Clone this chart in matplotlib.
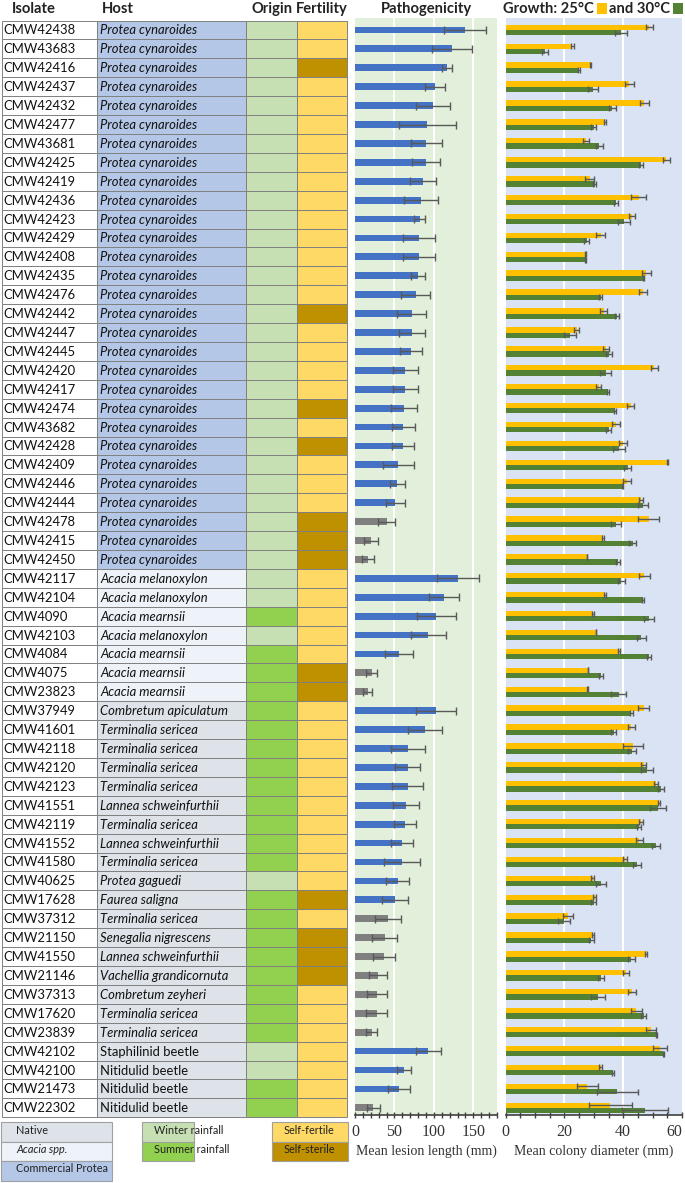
import matplotlib.pyplot as plt
from matplotlib.patches import Rectangle
import numpy as np

# ---- data ----
isolates = ['CMW42438', 'CMW43683', 'CMW42416', 'CMW42437', 'CMW42432', 'CMW42477', 'CMW43681',
            'CMW42425', 'CMW42419', 'CMW42436', 'CMW42423', 'CMW42429', 'CMW42408', 'CMW42435',
            'CMW42476', 'CMW42442', 'CMW42447', 'CMW42445', 'CMW42420', 'CMW42417', 'CMW42474',
            'CMW43682', 'CMW42428', 'CMW42409', 'CMW42446', 'CMW42444', 'CMW42478', 'CMW42415',
            'CMW42450', 'CMW42117', 'CMW42104', 'CMW4090', 'CMW42103', 'CMW4084', 'CMW4075',
            'CMW23823', 'CMW37949', 'CMW41601', 'CMW42118', 'CMW42120', 'CMW42123', 'CMW41551',
            'CMW42119', 'CMW41552', 'CMW41580', 'CMW40625', 'CMW17628', 'CMW37312', 'CMW21150',
            'CMW41550', 'CMW21146', 'CMW37313', 'CMW17620', 'CMW23839', 'CMW42102', 'CMW42100',
            'CMW21473', 'CMW22302']
hosts = (['Protea cynaroides'] * 29
         + ['Acacia melanoxylon', 'Acacia melanoxylon', 'Acacia mearnsii', 'Acacia melanoxylon',
            'Acacia mearnsii', 'Acacia mearnsii', 'Acacia mearnsii',
            'Combretum apiculatum', 'Terminalia sericea', 'Terminalia sericea', 'Terminalia sericea',
            'Terminalia sericea', 'Lannea schweinfurthii', 'Terminalia sericea', 'Lannea schweinfurthii',
            'Terminalia sericea', 'Protea gaguedi', 'Faurea saligna', 'Terminalia sericea',
            'Senegalia nigrescens', 'Lannea schweinfurthii', 'Vachellia grandicornuta',
            'Combretum zeyheri', 'Terminalia sericea', 'Terminalia sericea',
            'Staphilinid beetle', 'Nitidulid beetle', 'Nitidulid beetle', 'Nitidulid beetle'])
host_group = ['P'] * 29 + ['A'] * 7 + ['N'] * 22
origin = (['W'] * 31 + ['S', 'W'] + ['S'] * 12 + ['W'] + ['S'] * 8 + ['W', 'W', 'S', 'S'])
sterile = [3, 16, 21, 23, 27, 28, 29, 35, 36, 47, 49, 50, 51]
fertility = ['S' if i + 1 in sterile else 'F' for i in range(len(isolates))]

lesion = [139.8, 122.9, 116.5, 100.8, 98.3, 91.5, 90.3, 90.3, 86.0, 83.9, 81.8, 80.9, 80.9, 79.7,
          76.7, 72.0, 72.0, 71.2, 63.6, 63.6, 62.3, 61.4, 61.4, 54.7, 53.8, 51.3, 40.3, 19.9, 16.1,
          130.5, 112.7, 103.0, 92.8, 55.9, 21.2, 16.1, 103.0, 88.6, 66.9, 66.9, 66.9, 64.8, 63.6,
          59.3, 59.3, 54.2, 50.8, 41.5, 37.7, 36.4, 29.7, 27.5, 27.5, 21.2, 92.8, 62.3, 55.9, 23.3]
lesion_err = [26.5, 25.0, 6.4, 12.7, 21.6, 36.0, 19.7, 17.6, 16.7, 21.4, 6.4, 20.6, 20.6, 9.1,
              18.6, 18.6, 16.3, 14.0, 15.9, 16.0, 16.5, 14.6, 14.0, 19.7, 9.5, 12.3, 10.6, 9.1, 7.4,
              27.0, 19.3, 24.6, 22.0, 18.2, 7.0, 5.5, 25.4, 22.0, 21.6, 15.7, 19.5, 16.7, 13.8,
              14.2, 22.7, 14.4, 16.3, 16.3, 15.7, 13.8, 11.4, 12.7, 13.6, 6.8, 16.0, 8.7, 14.2, 7.8]
nonsig = [27, 28, 29, 35, 36, 48, 49, 50, 51, 52, 53, 54, 58]

g25 = [48.9, 22.6, 28.9, 42.1, 47.2, 33.9, 27.2, 54.6, 28.6, 45.2, 43.0, 32.3, 27.2, 47.8, 46.7,
       33.4, 24.1, 34.2, 50.6, 31.6, 42.5, 37.6, 39.9, 55.1, 41.2, 46.1, 48.6, 33.1, 27.7, 47.2,
       33.7, 29.7, 30.8, 38.5, 28.0, 27.9, 46.9, 42.7, 43.3, 46.9, 51.2, 52.3, 45.9, 45.5, 40.5,
       29.7, 30.3, 21.2, 29.7, 47.8, 41.0, 43.0, 44.4, 49.5, 52.5, 32.3, 27.8, 35.6]
g25_err = [1.3, 0.5, 0.2, 1.5, 1.5, 0.4, 1.0, 1.2, 1.5, 2.7, 0.9, 1.6, 0.2, 1.5, 1.5, 1.2, 0.8,
           1.0, 1.2, 1.0, 1.2, 1.4, 1.4, 0.3, 1.3, 0.7, 3.5, 0.3, 0.1, 1.8, 0.4, 0.3, 0.1, 0.3,
           0.1, 0.1, 1.8, 1.2, 3.4, 0.9, 0.7, 0.3, 0.7, 1.2, 0.7, 0.5, 0.6, 1.6, 0.3, 0.3, 1.1,
           1.4, 1.9, 1.6, 2.4, 0.4, 3.6, 7.4]
g30 = [39.3, 13.3, 25.0, 29.7, 36.2, 29.9, 31.8, 46.1, 30.3, 37.6, 40.2, 27.5, 27.2, 46.9, 32.3,
       37.9, 21.8, 35.1, 34.0, 34.8, 37.2, 35.1, 38.5, 41.6, 39.7, 46.7, 37.6, 43.3, 38.2, 39.3,
       46.7, 48.7, 46.1, 48.9, 32.5, 38.5, 42.8, 36.8, 42.9, 48.0, 52.9, 51.8, 45.3, 51.2, 44.7,
       32.5, 29.9, 19.8, 29.2, 42.7, 32.3, 31.4, 46.9, 51.2, 53.7, 36.5, 38.0, 47.5]
g30_err = [2.0, 1.1, 0.3, 1.8, 1.2, 0.8, 1.2, 0.6, 0.6, 0.7, 2.1, 0.7, 0.2, 0.3, 0.4, 0.6, 2.0,
           1.1, 1.8, 0.3, 0.2, 0.9, 2.1, 1.2, 0.2, 1.7, 1.8, 1.2, 0.8, 1.2, 0.3, 1.8, 1.5, 0.7,
           0.7, 2.5, 0.6, 0.9, 1.4, 2.0, 1.0, 2.7, 0.6, 1.4, 1.5, 1.8, 1.0, 2.1, 1.0, 1.2, 1.0,
           2.3, 0.8, 0.2, 0.3, 0.2, 6.9, 7.8]

# ---- styling ----
host_col = {'P': '#b4c7e7', 'A': '#eef3fa', 'N': '#dee3ea'}
origin_col = {'W': '#c6e0b4', 'S': '#92d050'}
fert_col = {'F': '#ffd966', 'S': '#bf9000'}
FONT = 'Lato'
SERIF = 'Liberation Serif'

W, H = 685, 1183
fig = plt.figure(figsize=(W / 100, H / 100), dpi=100)
tab = fig.add_axes([0, 0, 1, 1])
tab.set_xlim(0, W)
tab.set_ylim(H, 0)
tab.axis('off')

ROW0 = 20.5
RH = 18.91
cols = [2, 97, 246, 297, 347]
n = len(isolates)

for i in range(n):
    y = ROW0 + i * RH
    fills = ['white', host_col[host_group[i]], origin_col[origin[i]], fert_col[fertility[i]]]
    for c in range(4):
        tab.add_patch(Rectangle((cols[c], y), cols[c + 1] - cols[c], RH, facecolor=fills[c],
                                edgecolor='#808080', lw=0.7))
    tab.text(cols[0] + 1.5, y + RH / 2 + 0.5, isolates[i], fontsize=9.4, family=FONT,
             va='center', ha='left', color='#111111')
    beetle = 'beetle' in hosts[i]
    tab.text(cols[1] + 3, y + RH / 2 + 0.5, hosts[i], fontsize=9.4, family=FONT,
             style='normal' if beetle else 'italic', va='center', ha='left', color='#111111')

# headers
hdr = dict(fontsize=10.6, family=FONT, fontweight='bold', va='center', color='#222222')
tab.text(12, 9, 'Isolate', ha='left', **hdr)
tab.text(102, 9, 'Host', ha='left', **hdr)
tab.text(272, 9, 'Origin', ha='center', **hdr)
tab.text(322, 9, 'Fertility', ha='center', **hdr)
tab.text(426, 9, 'Pathogenicity', ha='center', **hdr)
tab.text(503, 9, 'Growth: 25°C', ha='left', **hdr)
tab.add_patch(Rectangle((597, 3), 10, 11, facecolor='#ffc000', edgecolor='none'))
tab.text(609, 9, 'and 30°C', ha='left', **hdr)
tab.add_patch(Rectangle((673, 3), 10, 11, facecolor='#548235', edgecolor='none'))

# legend boxes under the table
leg = dict(fontsize=7.8, family=FONT, va='top', ha='left', color='#222222')
boxes = [
    (1, 112, 16, [('Native', '#dee3ea', 'normal'), ('Acacia spp.', '#eef3fa', 'italic'),
                  ('Commercial Protea', '#b4c7e7', 'normal')]),
    (142, 194, 154, [('Winter rainfall', '#c6e0b4', 'normal'), ('Summer rainfall', '#92d050', 'normal')]),
    (272, 348, 284, [('Self-fertile', '#ffd966', 'normal'), ('Self-sterile', '#bf9000', 'normal')]),
]
for x0, x1, tx, items in boxes:
    for k, (lab, colr, st) in enumerate(items):
        yy = 1122 + k * 19.5
        tab.add_patch(Rectangle((x0, yy), x1 - x0, 19.5, facecolor=colr, edgecolor='#a0a0a0', lw=0.8))
        tab.text(tx, yy + 2.5, lab, style=st, **leg)


def px_axes(x0, x1, y0, y1):
    return fig.add_axes([x0 / W, 1 - y1 / H, (x1 - x0) / W, (y1 - y0) / H])


def to_row(py):
    return (py - (ROW0 + RH / 2)) / RH


rows = np.arange(n)
ecol = '#595959'


def style_axis(ax, bg, xmax, major, minor, grid):
    ax.set_facecolor(bg)
    ax.set_xlim(0, xmax)
    ax.set_ylim(to_row(1115), to_row(18))
    for v in grid:
        ax.axvline(v, color='white', lw=1.5, zorder=0.5)
    ax.set_yticks([])
    ax.set_xticks(major)
    ax.set_xticks(minor, minor=True)
    for s in ('top', 'left', 'right'):
        ax.spines[s].set_visible(False)
    ax.spines['bottom'].set_color('#404040')
    ax.spines['bottom'].set_linewidth(1.2)
    ax.tick_params(axis='x', which='both', direction='inout', length=5, width=1, color='#404040',
                   labelsize=11.5, labelcolor='#333333', pad=4)
    for t in ax.get_xticklabels():
        t.set_family(SERIF)


# pathogenicity
pa = px_axes(355, 497, 18, 1115)
style_axis(pa, '#e2efda', 180, [0, 50, 100, 150], np.arange(0, 181, 10), [50, 100, 150])
bar_cols = ['#808080' if i + 1 in nonsig else '#4472c4' for i in range(n)]
pa.barh(rows, lesion, height=0.36, color=bar_cols, xerr=lesion_err, zorder=2,
        error_kw=dict(ecolor=ecol, elinewidth=1, capsize=3, capthick=1))
pa.set_xlabel('Mean lesion length (mm)', family=SERIF, fontsize=10, color='#333333', labelpad=3)

# growth
ga = px_axes(505.7, 682, 18, 1115)
style_axis(ga, '#dae3f3', 60, [0, 20, 40, 60], np.arange(0, 61, 5), [20, 40])
ga.barh(rows - 0.14, g25, height=0.28, color='#ffc000', xerr=g25_err, zorder=2,
        error_kw=dict(ecolor=ecol, elinewidth=1, capsize=2.5, capthick=1))
ga.barh(rows + 0.14, g30, height=0.28, color='#548235', xerr=g30_err, zorder=2,
        error_kw=dict(ecolor=ecol, elinewidth=1, capsize=2.5, capthick=1))
ga.set_xlabel('Mean colony diameter (mm)', family=SERIF, fontsize=10, color='#333333', labelpad=3)
ga.get_xticklabels()[-1].set_horizontalalignment('right')

fig.savefig('out.png', dpi=100)
